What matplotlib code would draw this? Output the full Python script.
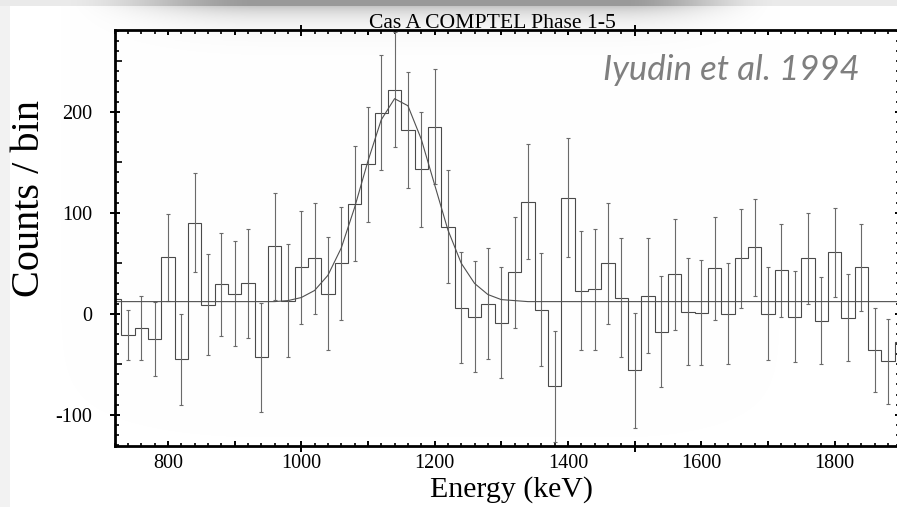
import numpy as np
import matplotlib
matplotlib.use("Agg")
import matplotlib.pyplot as plt
from matplotlib.ticker import MultipleLocator, FuncFormatter

plt.rcParams["font.family"] = "Liberation Serif"
plt.rcParams["axes.unicode_minus"] = False

# Cas A, COMPTEL phases 1-5, 20 keV bins (bin centres)
energy = np.arange(720, 1901, 20)
counts = [15, -21, -14, -25, 56, -45, 90, 9, 29, 20,
          30, -43, 67, 13, 46, 55, 20, 50, 109, 148,
          199, 222, 182, 143, 185, 86, 6, -3, 10, -9,
          41, 111, 4, -72, 115, 23, 24, 50, 16, -56,
          18, -18, 39, 2, 1, 45, 0, 55, 66, 0,
          43, -3, 55, -7, 61, -4, 46, -36, -47, -28]
errors = [25, 25, 32, 37, 43, 45, 49, 50, 51, 52,
          54, 54, 53, 56, 56, 55, 56, 56, 57, 57,
          57, 57, 57, 57, 57, 56, 55, 55, 55, 55,
          55, 57, 56, 55, 59, 59, 60, 60, 59, 57,
          57, 55, 55, 53, 52, 51, 50, 49, 48, 46,
          46, 45, 45, 43, 44, 43, 43, 42, 42, 42]
# line + Gaussian fit evaluated at the bin centres
fit = [12, 12, 12, 12, 12, 12, 12, 12, 12, 12,
       12, 12, 12, 13, 16, 23, 38, 65, 105, 151,
       192, 213, 206, 173, 128, 83, 50, 30, 19, 14,
       13, 12, 12, 12, 12, 12, 12, 12, 12, 12,
       12, 12, 12, 12, 12, 12, 12, 12, 12, 12,
       12, 12, 12, 12, 12, 12, 12, 12, 12, 12]

title = "Cas A COMPTEL Phase 1-5"
reference = "Iyudin et al. 1994"

W, H, DPI = 897, 507, 100
px = 72 / DPI
fig = plt.figure(figsize=(W / DPI, H / DPI), dpi=DPI)

# soft grey shadow along the top edge
xx = np.arange(W)[None, :]
yy = np.arange(H)[:, None]


def smooth(t):
    t = np.clip(t, 0, 1)
    return t * t * (3 - 2 * t)


wx = smooth((xx - 60) / 200) * smooth((780 - xx) / 160)
dark = np.where(yy < 6, 0.08 + 0.32 * wx, 0.22 * wx * np.exp(-(yy - 6) / 12))
dark = np.maximum(dark, np.where(xx < 10, 0.05, 0.0))
img = np.repeat((1 - dark)[:, :, None], 3, axis=2)
fig.figimage(img, xo=0, yo=0, origin="upper", zorder=-10)

ax = fig.add_axes([114.5 / W, 1 - 446 / H, (900 - 114.5) / W, (446 - 30) / H])
ax.set_facecolor("none")
ax.set_xlim(720, 1898)
ax.set_ylim(-131, 281)

edges = np.append(energy - 10, energy[-1] + 10)
ax.stairs(counts, edges, baseline=None, color="#4a4a4a", lw=0.8)
ax.errorbar(energy, counts, yerr=errors, fmt="none", ecolor="#6a6a6a",
            elinewidth=0.8, capsize=1.2, capthick=0.8)
ax.plot(energy, fit, color="#505050", lw=0.8)

for s in ax.spines.values():
    s.set_linewidth(2.0)

ax.xaxis.set_major_locator(MultipleLocator(100))
ax.xaxis.set_minor_locator(MultipleLocator(20))
ax.yaxis.set_major_locator(MultipleLocator(100))
ax.yaxis.set_minor_locator(MultipleLocator(10))
ax.xaxis.set_major_formatter(FuncFormatter(lambda v, p: f"{v:.0f}" if round(v) % 200 == 0 else ""))
ax.yaxis.set_major_formatter(FuncFormatter(lambda v, p: f"{v:.0f}"))

ax.tick_params(axis="x", which="major", direction="in", length=5 * px, width=1.4,
               pad=8 * px, top=True, labelsize=14.5)
ax.tick_params(axis="x", which="minor", direction="in", length=3.5 * px, width=1.2, top=True)
ax.tick_params(axis="y", which="major", direction="inout", length=10 * px, width=1.4,
               pad=17.5 * px, right=True, labelsize=14.5)
ax.tick_params(axis="y", which="minor", direction="in", length=4 * px, width=1.2, right=True)

# longer ticks every 500 keV on x, every 50 counts on y
xlocs = ax.xaxis.get_majorticklocs()
for tick, loc in zip(ax.xaxis.get_major_ticks(len(xlocs)), xlocs):
    if abs(loc / 500 - round(loc / 500)) < 1e-6:
        for line in (tick.tick1line, tick.tick2line):
            line.set_marker("|")
            line.set_markersize(11 * px)
ylocs = ax.yaxis.get_minorticklocs()
for tick, loc in zip(ax.yaxis.get_minor_ticks(len(ylocs)), ylocs):
    if abs(loc / 50 - round(loc / 50)) < 1e-6:
        tick.tick1line.set_markersize(7 * px)

ax.set_xlabel("Energy (keV)", fontsize=21.5)
ax.xaxis.set_label_coords(0.5054, -0.073)
ax.set_ylabel("Counts / bin", fontsize=29)
ax.yaxis.set_label_coords(-0.085, 0.596)

fig.text(492 / W, 1 - 28 / H, title, ha="center", va="baseline", fontsize=15.6)
fig.text(860 / W, 1 - 80 / H, reference, ha="right", va="baseline", fontsize=25,
         style="italic", color="#7f7f7f", family="Lato")

fig.savefig("out.png", dpi=DPI)
